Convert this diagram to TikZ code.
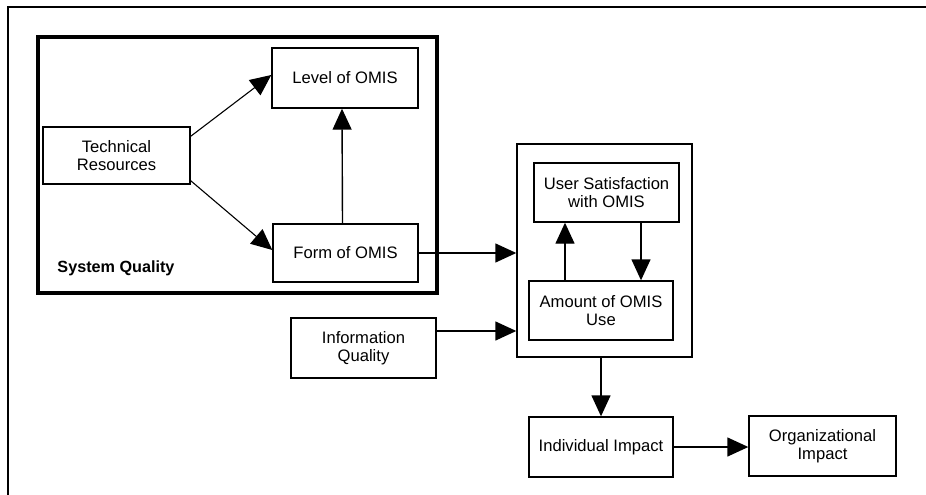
\documentclass[tikz,border=0pt]{standalone}
\usepackage{fontspec}
\setmainfont{Liberation Sans}
\usetikzlibrary{arrows.meta}
\begin{document}
\begin{tikzpicture}[x=1pt,y=-1pt,
  box/.style={draw,line width=1.4pt,inner sep=0pt,align=center,
    font=\fontsize{16.6}{18.5}\selectfont},
  link/.style={line width=1.4pt,-{Triangle[length=21pt,width=19pt]}},
  thinlink/.style={link,line width=1.1pt},
  frame/.style={line width=2pt},
  group/.style={draw,line width=3.4pt}]
  \useasboundingbox (0,0) rectangle (926,495);

  % page frame (top and left edges)
  \draw[frame] (8,495) -- (8,7) -- (926,7);

  % system quality group
  \draw[group] (38,37) rectangle (437,293);
  \node[font=\fontsize{16.2}{18}\selectfont\bfseries] (sysq) at (116,268) {System Quality};

  \node[box,minimum width=147pt,minimum height=57pt] (tech) at (116.5,155.5) {Technical\\Resources};
  \node[box,minimum width=146pt,minimum height=60pt] (lvl) at (345,78) {Level of OMIS};
  \node[box,minimum width=145pt,minimum height=58pt] (form) at (345.5,253) {Form of OMIS};

  % use / satisfaction group
  \node[draw,line width=1.4pt,minimum width=175pt,minimum height=213pt] (mid) at (604.5,250.5) {};
  \node[box,minimum width=145pt,minimum height=59pt] (usat) at (606.5,192.5) {User Satisfaction\\with OMIS};
  \node[box,minimum width=144pt,minimum height=59pt] (amt) at (601,310.5) {Amount of OMIS\\Use};

  \node[box,minimum width=145pt,minimum height=60pt] (info) at (363.5,348) {Information\\Quality};
  \node[box,minimum width=144pt,minimum height=60pt] (ind) at (601,447) {Individual Impact};
  \node[box,minimum width=147pt,minimum height=60pt] (org) at (822.5,446) {Organizational\\Impact};

  % connectors
  \draw[thinlink] ([yshift=-10pt]tech.north east) -- ([yshift=3pt]lvl.west);
  \draw[thinlink] ([yshift=4pt]tech.south east) -- ([yshift=3pt]form.west);
  \draw[link] ([xshift=-3pt]form.north) -- ([xshift=-3pt]lvl.south);
  \draw[link] (form.east) -- (mid.west |- form.east);
  \draw[link] ([yshift=17pt]info.east) coordinate (ie) -- (mid.west |- ie);
  \draw[link] ([xshift=-36pt]amt.north) coordinate (au) -- (usat.south -| au);
  \draw[link] ([xshift=34.5pt]usat.south) coordinate (ud) -- (amt.north -| ud);
  \draw[link] (mid.south -| ind.north) -- (ind.north);
  \draw[link] (ind.east) -- (org.west |- ind.east);
\end{tikzpicture}
\end{document}
